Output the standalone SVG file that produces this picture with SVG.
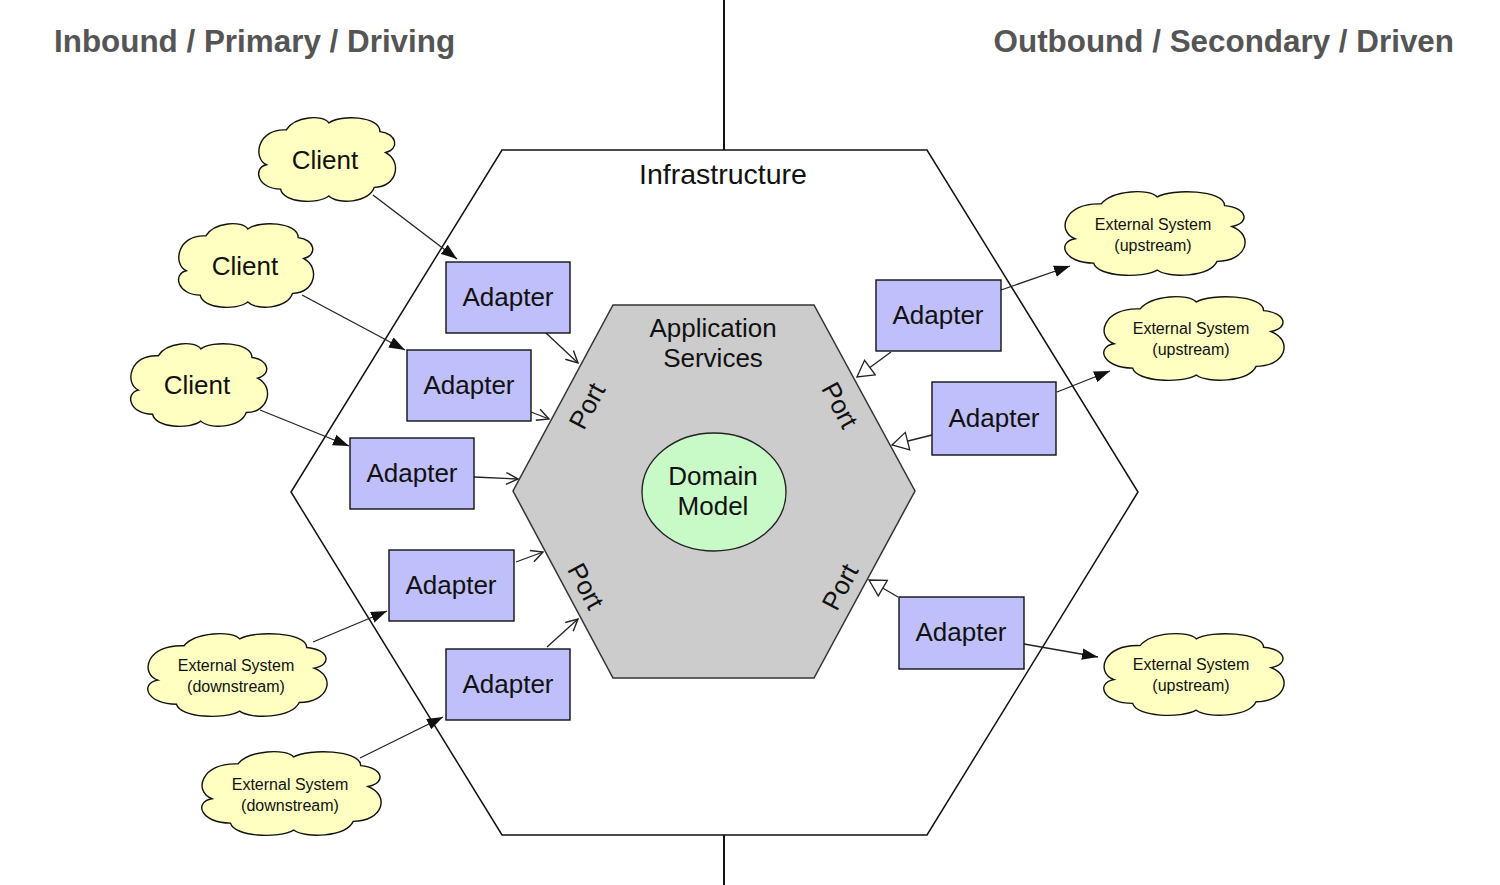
<svg xmlns="http://www.w3.org/2000/svg" width="1500" height="885" viewBox="0 0 1500 885">
<style>
text{font-family:"Liberation Sans",Arial,Helvetica,sans-serif;fill:#111}
.title{font-size:31.4px;font-weight:bold;fill:#555}
.big{font-size:26px;text-anchor:middle}
.small{font-size:16px;text-anchor:middle}
.cloud{fill:#ffffc2;stroke:#111;stroke-width:1.4}
.adapter{fill:#bfbffc;stroke:#111;stroke-width:1.4}
.conn{fill:none;stroke:#222;stroke-width:1.3}
.fa{marker-end:url(#filled)}
.oa{marker-end:url(#open)}
.ha{marker-end:url(#hollow)}
</style>
<defs>
<path id="cloudShape" vector-effect="non-scaling-stroke" d="M 8 56 C -2 48 2 14 22 16 C 28 0 48 -2 52 8 C 60 -2 88 0 88 18 C 100 20 102 38 92 42 C 104 52 100 82 84 82 C 80 100 58 102 52 92 C 44 102 20 100 18 84 C 2 84 -2 60 8 56 Z"/>
<marker id="filled" markerUnits="userSpaceOnUse" markerWidth="16" markerHeight="12" viewBox="0 0 14 10" refX="14" refY="5" orient="auto">
<path d="M0,0 L14,5 L0,10 Z" fill="#111"/>
</marker>
<marker id="open" markerUnits="userSpaceOnUse" markerWidth="14" markerHeight="14" viewBox="-1 -1 13 13" refX="11" refY="5.5" orient="auto">
<path d="M0,0 L11,5.5 L0,11" fill="none" stroke="#222" stroke-width="1.3"/>
</marker>
<marker id="hollow" markerUnits="userSpaceOnUse" markerWidth="20" markerHeight="20" viewBox="-1 -1 18 20" refX="16" refY="9" orient="auto">
<path d="M0,0 L16,9 L0,18 Z" fill="#fff" stroke="#222" stroke-width="1.3"/>
</marker>
</defs>

<g id="titles">
<text class="title" x="54" y="52">Inbound / Primary / Driving</text>
<text class="title" x="1454" y="52" text-anchor="end">Outbound / Secondary / Driven</text>
</g>

<g id="divider">
<line x1="724" y1="0" x2="724" y2="150" stroke="#111" stroke-width="2"/>
<line x1="724" y1="835" x2="724" y2="885" stroke="#111" stroke-width="2"/>
</g>

<g id="infrastructure">
<polygon points="502,150 927,150 1138,492 927,835 502,835 291,492" fill="#fff" stroke="#111" stroke-width="1.5"/>
<text class="big" x="723" y="184" style="font-size:28.5px">Infrastructure</text>
</g>

<g id="application-services">
<polygon points="613,305 814,305 915,491 814,678 613,678 513,491" fill="#cccccc" stroke="#333" stroke-width="1.5"/>
<text class="big" x="713" y="337">Application</text>
<text class="big" x="713" y="367">Services</text>
<text class="big" transform="translate(587,406) rotate(-62)" x="0" y="9">Port</text>
<text class="big" transform="translate(840,405) rotate(62)" x="0" y="9">Port</text>
<text class="big" transform="translate(586,586) rotate(62)" x="0" y="9">Port</text>
<text class="big" transform="translate(840,587) rotate(-62)" x="0" y="9">Port</text>
</g>

<g id="domain-model">
<ellipse cx="714" cy="492" rx="72" ry="59" fill="#c8fac8" stroke="#222" stroke-width="1.4"/>
<text class="big" x="713" y="485">Domain</text>
<text class="big" x="713" y="515">Model</text>
</g>

<g id="connectors">
<line class="conn fa" x1="373" y1="195" x2="457" y2="259"/>
<line class="conn fa" x1="302" y1="295" x2="405" y2="350"/>
<line class="conn fa" x1="260" y1="410" x2="349" y2="446"/>
<line class="conn fa" x1="313" y1="642" x2="387" y2="611"/>
<line class="conn fa" x1="360" y1="758" x2="443" y2="717"/>
<line class="conn oa" x1="546" y1="333" x2="578" y2="363"/>
<line class="conn oa" x1="531" y1="412" x2="549" y2="419"/>
<line class="conn oa" x1="474" y1="477" x2="518" y2="479"/>
<line class="conn oa" x1="516" y1="562" x2="543" y2="552"/>
<line class="conn oa" x1="547" y1="647" x2="578" y2="619"/>
<line class="conn fa" x1="1001" y1="290" x2="1070" y2="266"/>
<line class="conn fa" x1="1057" y1="392" x2="1110" y2="371"/>
<line class="conn fa" x1="1024" y1="644" x2="1098" y2="657"/>
<line class="conn ha" x1="891" y1="352" x2="857" y2="377"/>
<line class="conn ha" x1="932" y1="435" x2="892" y2="445"/>
<line class="conn ha" x1="898" y1="597" x2="869" y2="580"/>
</g>

<g id="client-1">
<use href="#cloudShape" class="cloud" transform="translate(255,116) scale(1.42,0.87)"/>
<text class="big" x="325" y="169">Client</text>
</g>
<g id="client-2">
<use href="#cloudShape" class="cloud" transform="translate(175,222) scale(1.40,0.87)"/>
<text class="big" x="245" y="275">Client</text>
</g>
<g id="client-3">
<use href="#cloudShape" class="cloud" transform="translate(127,342) scale(1.42,0.86)"/>
<text class="big" x="197" y="394">Client</text>
</g>
<g id="ext-down-1">
<use href="#cloudShape" class="cloud" transform="translate(143,632) scale(1.86,0.86)"/>
<text class="small" x="236" y="671">External System</text>
<text class="small" x="236" y="692">(downstream)</text>
</g>
<g id="ext-down-2">
<use href="#cloudShape" class="cloud" transform="translate(197,750) scale(1.86,0.87)"/>
<text class="small" x="290" y="790">External System</text>
<text class="small" x="290" y="811">(downstream)</text>
</g>
<g id="ext-up-1">
<use href="#cloudShape" class="cloud" transform="translate(1060,190) scale(1.87,0.87)"/>
<text class="small" x="1153" y="230">External System</text>
<text class="small" x="1153" y="251">(upstream)</text>
</g>
<g id="ext-up-2">
<use href="#cloudShape" class="cloud" transform="translate(1099,295) scale(1.87,0.87)"/>
<text class="small" x="1191" y="334">External System</text>
<text class="small" x="1191" y="355">(upstream)</text>
</g>
<g id="ext-up-3">
<use href="#cloudShape" class="cloud" transform="translate(1099,632) scale(1.87,0.85)"/>
<text class="small" x="1191" y="670">External System</text>
<text class="small" x="1191" y="691">(upstream)</text>
</g>

<g id="adapter-1"><rect class="adapter" x="446" y="262" width="124" height="71"/><text class="big" x="508" y="306">Adapter</text></g>
<g id="adapter-2"><rect class="adapter" x="407" y="350" width="124" height="71"/><text class="big" x="469" y="394">Adapter</text></g>
<g id="adapter-3"><rect class="adapter" x="350" y="438" width="124" height="71"/><text class="big" x="412" y="482">Adapter</text></g>
<g id="adapter-4"><rect class="adapter" x="389" y="550" width="125" height="71"/><text class="big" x="451" y="594">Adapter</text></g>
<g id="adapter-5"><rect class="adapter" x="446" y="649" width="124" height="71"/><text class="big" x="508" y="693">Adapter</text></g>
<g id="adapter-6"><rect class="adapter" x="876" y="280" width="125" height="71"/><text class="big" x="938" y="324">Adapter</text></g>
<g id="adapter-7"><rect class="adapter" x="932" y="382" width="124" height="73"/><text class="big" x="994" y="427">Adapter</text></g>
<g id="adapter-8"><rect class="adapter" x="899" y="597" width="125" height="72"/><text class="big" x="961" y="641">Adapter</text></g>
</svg>
